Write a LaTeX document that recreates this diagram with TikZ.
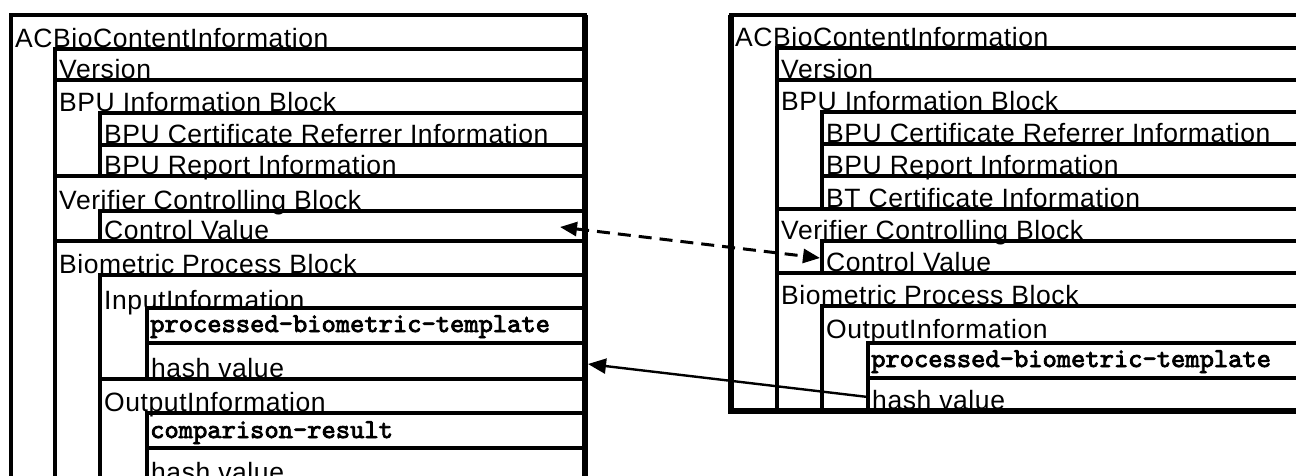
\documentclass[tikz,border=0pt]{standalone}
\usepackage{fontspec}
\setmainfont{Liberation Sans}[LetterSpace=2.2]
\newfontfamily\codefont{lmmono10-regular.otf}[FakeBold=3]
\usetikzlibrary{arrows.meta}

\begin{document}
\begin{tikzpicture}[x=1pt,y=-1pt,
  boxframe/.style={draw, rectangle, inner sep=0pt, outer sep=0pt, anchor=north west, line width=3.6pt},
  lbl/.style={anchor=base west, inner sep=0pt, font=\fontsize{26.5}{30}\selectfont},
  code/.style={anchor=base west, inner sep=0pt, font=\codefont\fontsize{27.2}{30}\selectfont},
  link/.style={line width=2.4pt, -{Triangle[length=18pt,width=15pt]}},
  dlink/.style={line width=3pt, dash pattern=on 13pt off 8pt,
    {Triangle[length=17pt,width=14pt]}-{Triangle[length=17pt,width=14pt]}}
]
\clip (0,0) rectangle (1296,475);

% ---------- left structure ----------
\node[boxframe, line width=4pt, minimum width=574pt, minimum height=505pt] (lACB) at (11,15) {};
\node[boxframe, minimum width=530pt, minimum height=31pt]  (lVer)  at (55,49)  {};
\node[boxframe, minimum width=530pt, minimum height=96pt]  (lBPU)  at (55,80)  {};
\node[boxframe, minimum width=485pt, minimum height=32pt]  (lCert) at (100,113) {};
\node[boxframe, minimum width=485pt, minimum height=31pt]  (lRep)  at (100,145) {};
\node[boxframe, minimum width=530pt, minimum height=65pt]  (lVCB)  at (55,176) {};
\node[boxframe, minimum width=485pt, minimum height=30pt]  (lCV)   at (100,211) {};
\node[boxframe, minimum width=530pt, minimum height=280pt] (lBio)  at (55,241) {};
\node[boxframe, minimum width=485pt, minimum height=104pt] (lIn)   at (100,275) {};
\node[boxframe, minimum width=438pt, minimum height=35pt]  (lPBT)  at (147,308) {};
\node[boxframe, minimum width=438pt, minimum height=36pt]  (lHash) at (147,343) {};
\node[boxframe, minimum width=485pt, minimum height=140pt] (lOut)  at (100,379) {};
\node[boxframe, minimum width=438pt, minimum height=35pt]  (lCmp)  at (147,413) {};
\node[boxframe, minimum width=438pt, minimum height=35pt]  (lHashB) at (147,448) {};
\draw[line width=6pt] (lACB.north east) -- (lACB.south east);

\node[lbl] (tlACB)  at (15,47)    {ACBioContentInformation};
\node[lbl] (tlVer)  at (59,78.5)  {Version};
\node[lbl] (tlBPU)  at (59,111)   {BPU Information Block};
\node[lbl] (tlCert) at (104,143.5) {BPU Certificate Referrer Information};
\node[lbl] (tlRep)  at (104,174.5) {BPU Report Information};
\node[lbl] (tlVCB)  at (59,209)   {Verifier Controlling Block};
\node[lbl] (tlCV)   at (104,239.5) {Control Value};
\node[lbl] (tlBio)  at (59,273.5) {Biometric Process Block};
\node[lbl] (tlIn)   at (104,309)  {InputInformation};
\node[code] (tlPBT) at (150,332)  {processed-biometric-template};
\node[lbl] (tlHash) at (151,377.5) {hash value};
\node[lbl] (tlOut)  at (104,411)  {OutputInformation};
\node[code] (tlCmp) at (150,438)  {comparison-result};
\node[lbl] (tlHashB) at (151,481.5) {hash value};

% ---------- right structure ----------
\node[boxframe, line width=4pt, minimum width=599pt, minimum height=396pt] (rACB) at (731,15) {};
\node[boxframe, minimum width=553pt, minimum height=32pt]  (rVer)  at (777,48)  {};
\node[boxframe, minimum width=553pt, minimum height=129pt] (rBPU)  at (777,80)  {};
\node[boxframe, minimum width=508pt, minimum height=32pt]  (rCert) at (822,112) {};
\node[boxframe, minimum width=508pt, minimum height=32pt]  (rRep)  at (822,144) {};
\node[boxframe, minimum width=508pt, minimum height=33pt]  (rBT)   at (822,176) {};
\node[boxframe, minimum width=553pt, minimum height=64pt]  (rVCB)  at (777,209) {};
\node[boxframe, minimum width=508pt, minimum height=32pt]  (rCV)   at (822,241) {};
\node[boxframe, minimum width=553pt, minimum height=138pt] (rBio)  at (777,273) {};
\node[boxframe, minimum width=508pt, minimum height=105pt] (rOut)  at (822,306) {};
\node[boxframe, minimum width=462pt, minimum height=35pt]  (rPBT)  at (868,343) {};
\node[boxframe, minimum width=462pt, minimum height=33pt]  (rHash) at (868,378) {};
\draw[line width=6pt] (rACB.north west) -- (rACB.south west) -- (rACB.south east);

\node[lbl] (trACB)  at (735,46.5)  {ACBioContentInformation};
\node[lbl] (trVer)  at (781,78.5)  {Version};
\node[lbl] (trBPU)  at (781,110.5) {BPU Information Block};
\node[lbl] (trCert) at (826,142.5) {BPU Certificate Referrer Information};
\node[lbl] (trRep)  at (826,174.5) {BPU Report Information};
\node[lbl] (trBT)   at (826,207.5) {BT Certificate Information};
\node[lbl] (trVCB)  at (781,239.5) {Verifier Controlling Block};
\node[lbl] (trCV)   at (826,271.5) {Control Value};
\node[lbl] (trBio)  at (781,304.5) {Biometric Process Block};
\node[lbl] (trOut)  at (826,338)   {OutputInformation};
\node[code] (trPBT) at (871,367)   {processed-biometric-template};
\node[lbl] (trHash) at (872,409.5) {hash value};

% ---------- links ----------
\draw[dlink] ([shift={(-25,1)}]lCV.east) -- ([shift={(-2,1)}]rCV.west);
\draw[link] ([shift={(0,2.5)}]rHash.west) -- ([shift={(3,3)}]lHash.east);
\end{tikzpicture}
\end{document}
